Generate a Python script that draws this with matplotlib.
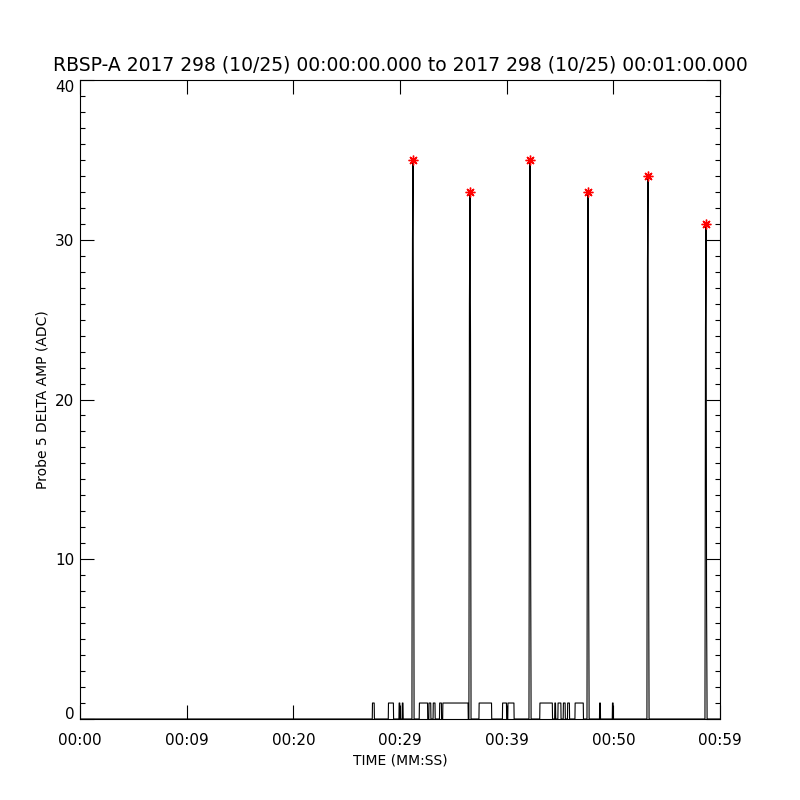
import numpy as np
import matplotlib
matplotlib.use("Agg")
import matplotlib.pyplot as plt

# low-level activity: intervals (seconds) where amplitude sits at 1 ADC
block_start = [27.4, 28.9, 29.9, 30.2, 31.8, 32.7, 33.1, 33.7, 34.0, 37.4,
               39.6, 40.1, 43.1, 44.5, 44.8, 45.3, 45.7, 46.4, 48.7, 49.9]
block_end = [27.6, 29.4, 30.0, 30.3, 32.6, 32.9, 33.3, 33.9, 36.4, 38.6,
             40.0, 40.7, 44.3, 44.6, 45.1, 45.5, 45.9, 47.2, 48.8, 50.0]

# large pulses
spike_time = [31.22, 36.56, 42.19, 47.63, 53.25, 58.69]
spike_peak = [35, 33, 35, 33, 34, 31]
spike_pre = [30, 26, 21, 24, 28.5, 24.5]
spike_post = [21, 24, 12.5, 10.5, 12, 7.5]

xtick_sec = [0, 10, 20, 30, 40, 50, 60]
xtick_lab = ["00:00", "00:09", "00:20", "00:29", "00:39", "00:50", "00:59"]

# assemble the trace
pts = [(0.0, 0.0)]
for s, e in zip(block_start, block_end):
    pts += [(s, 0), (s + 0.02, 1), (e - 0.02, 1), (e, 0)]
for t, p, a, b in zip(spike_time, spike_peak, spike_pre, spike_post):
    pts += [(t - 0.1, 0), (t - 0.05, a), (t, p), (t + 0.05, b), (t + 0.1, 0)]
pts.append((60.0, 0.0))
pts.sort(key=lambda q: q[0])
t_arr = np.array([q[0] for q in pts])
v_arr = np.array([q[1] for q in pts])

fig = plt.figure(figsize=(8, 8), dpi=100)
ax = fig.add_axes([0.1, 0.10125, 0.8, 0.79875])
ax.plot(t_arr, v_arr, color="black", lw=0.8)
ax.plot(spike_time, spike_peak, ls="none", marker=(8, 2, 0), ms=7,
        mec="red", mew=1.0, color="red")

ax.set_xlim(0, 60)
ax.set_ylim(0, 40)
ax.set_xticks(xtick_sec)
ax.set_xticklabels(xtick_lab)
ax.set_yticks([0, 10, 20, 30, 40])
ax.set_yticks(np.arange(0, 41, 1), minor=True)

ax.tick_params(axis="both", which="major", direction="in", length=10,
               width=0.8, labelsize=11, top=True, right=True)
ax.tick_params(axis="y", which="minor", direction="in", length=3.6,
               width=0.8, right=True)
ax.tick_params(axis="x", which="major", pad=10)
ax.tick_params(axis="y", which="major", pad=4)
for sp in ax.spines.values():
    sp.set_linewidth(0.8)

ylabs = ax.get_yticklabels()
ylabs[0].set_va("baseline")
ylabs[-1].set_va("top")

ax.set_xlabel("TIME (MM:SS)", fontsize=10, labelpad=4)
ax.set_ylabel("Probe 5 DELTA AMP (ADC)", fontsize=10, labelpad=4)
ax.set_title("RBSP-A 2017 298 (10/25) 00:00:00.000 to 2017 298 (10/25) 00:01:00.000",
             fontsize=13.5, pad=7)

fig.savefig("out.png", dpi=100)
